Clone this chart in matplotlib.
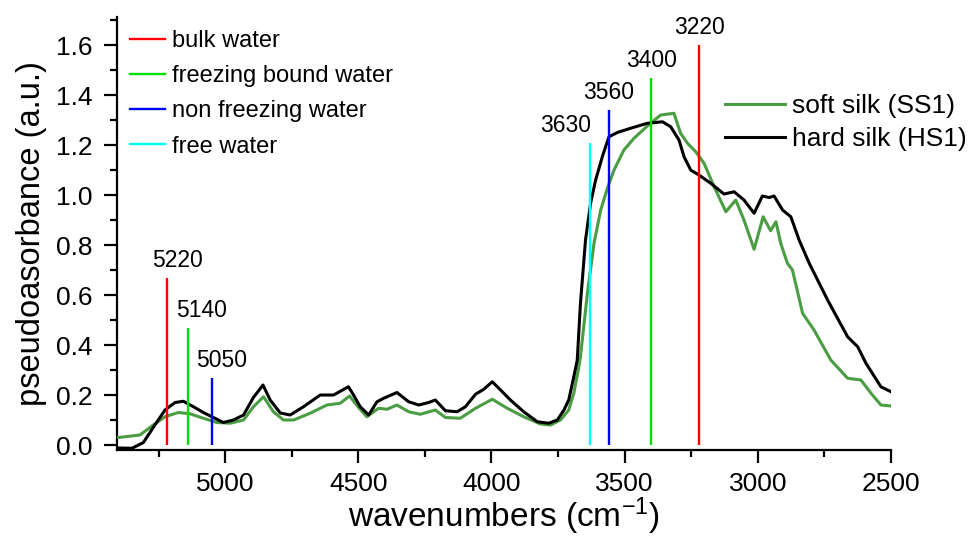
import matplotlib
matplotlib.use("Agg")
import matplotlib.pyplot as plt
from matplotlib.lines import Line2D
from matplotlib.ticker import MultipleLocator

plt.rcParams['font.family'] = ['Liberation Sans', 'DejaVu Sans']
plt.rcParams['mathtext.fontset'] = 'custom'
plt.rcParams['mathtext.rm'] = 'Liberation Sans'
plt.rcParams['mathtext.it'] = 'Liberation Sans:italic'

# ---- data ----
hard_wn = [5400, 5350, 5307, 5270, 5226, 5188, 5157, 5119, 5082, 5044, 5007, 4969,
           4931, 4894, 4858, 4831, 4793, 4756, 4706, 4643, 4593, 4537, 4518, 4493,
           4461, 4430, 4405, 4355, 4311, 4273, 4236, 4211, 4173, 4129, 4098, 4060,
           4029, 3997, 3966, 3929, 3879, 3828, 3785, 3753, 3728, 3710, 3691, 3678,
           3666, 3647, 3628, 3609, 3584, 3559, 3528, 3478, 3415, 3358, 3327, 3296,
           3277, 3252, 3221, 3177, 3127, 3089, 3052, 3014, 2983, 2958, 2939, 2907,
           2876, 2845, 2807, 2738, 2663, 2625, 2594, 2538, 2500]
hard_abs = [-0.012, -0.013, 0.01, 0.07, 0.14, 0.17, 0.175, 0.153, 0.13, 0.11, 0.09, 0.10,
            0.12, 0.19, 0.24, 0.18, 0.128, 0.12, 0.153, 0.20, 0.20, 0.233, 0.20, 0.153,
            0.12, 0.173, 0.187, 0.21, 0.173, 0.16, 0.17, 0.18, 0.137, 0.133, 0.153, 0.203,
            0.223, 0.253, 0.22, 0.18, 0.133, 0.093, 0.087, 0.10, 0.14, 0.18, 0.273, 0.34,
            0.567, 0.82, 0.967, 1.06, 1.153, 1.233, 1.25, 1.267, 1.287, 1.293, 1.273, 1.22,
            1.153, 1.10, 1.08, 1.047, 1.004, 1.013, 0.98, 0.927, 0.996, 0.99, 0.996, 0.94,
            0.913, 0.82, 0.727, 0.58, 0.433, 0.393, 0.327, 0.233, 0.213]

soft_wn = [5400, 5320, 5270, 5226, 5176, 5132, 5082, 5031, 4981, 4931, 4894, 4856,
           4819, 4781, 4743, 4681, 4618, 4568, 4533, 4499, 4468, 4424, 4392, 4355,
           4311, 4267, 4211, 4173, 4117, 4060, 3997, 3941, 3879, 3816, 3778, 3741,
           3710, 3691, 3672, 3666, 3640, 3615, 3590, 3565, 3540, 3503, 3465, 3415,
           3365, 3315, 3290, 3264, 3233, 3202, 3164, 3120, 3083, 3052, 3014, 2980,
           2952, 2932, 2914, 2889, 2870, 2832, 2789, 2726, 2663, 2613, 2575, 2538, 2500]
soft_abs = [0.03, 0.04, 0.08, 0.113, 0.13, 0.125, 0.107, 0.09, 0.087, 0.10, 0.153, 0.193,
            0.133, 0.10, 0.10, 0.127, 0.16, 0.167, 0.196, 0.15, 0.113, 0.147, 0.143, 0.16,
            0.133, 0.123, 0.14, 0.11, 0.107, 0.147, 0.183, 0.147, 0.113, 0.084, 0.08, 0.10,
            0.14, 0.207, 0.313, 0.353, 0.607, 0.807, 0.94, 1.027, 1.10, 1.18, 1.227, 1.276,
            1.32, 1.327, 1.247, 1.207, 1.173, 1.127, 1.033, 0.933, 0.98, 0.90, 0.783, 0.913,
            0.857, 0.893, 0.807, 0.727, 0.70, 0.527, 0.46, 0.34, 0.267, 0.26, 0.207, 0.16, 0.156]

marker_wn = [5220, 5140, 5050, 3630, 3560, 3400, 3220]
marker_height = [0.67, 0.47, 0.27, 1.21, 1.34, 1.47, 1.60]
marker_type = ['bulk water', 'freezing bound water', 'non freezing water',
               'free water', 'non freezing water', 'freezing bound water', 'bulk water']
water_types = ['bulk water', 'freezing bound water', 'non freezing water', 'free water']
water_colors = {'bulk water': '#ff0000', 'freezing bound water': '#00e000',
                'non freezing water': '#0000ff', 'free water': '#00ffff'}
label_offset_px = [11, 14, 10, -24, 0, 0, 0]

# ---- figure ----
W, H = 971, 537
fig = plt.figure(figsize=(W / 100, H / 100), dpi=100)
ax = fig.add_axes([117.3 / W, 1 - 450 / H, (891 - 117.3) / W, (450 - 17.3) / H])

green = '#4a9d42'
l_soft, = ax.plot(soft_wn, soft_abs, color=green, lw=2.2, label='soft silk (SS1)', zorder=3)
l_hard, = ax.plot(hard_wn, hard_abs, color='black', lw=2.2, label='hard silk (HS1)', zorder=4)

for w, h, t, off in zip(marker_wn, marker_height, marker_type, label_offset_px):
    ax.vlines(w, 0, h, colors=water_colors[t], lw=1.7, zorder=5)
    ax.annotate(str(w), xy=(w, h), xytext=(off * 0.72, 4), textcoords='offset points',
                ha='center', va='bottom', fontsize=16.5)

ax.set_xlim(5405, 2500)
ax.set_ylim(-0.02, 1.711)
ax.xaxis.set_major_locator(MultipleLocator(500))
ax.xaxis.set_minor_locator(MultipleLocator(250))
ax.yaxis.set_major_locator(MultipleLocator(0.2))
ax.yaxis.set_minor_locator(MultipleLocator(0.1))
ax.yaxis.set_major_formatter(matplotlib.ticker.FormatStrFormatter('%.1f'))

for s in ['top', 'right']:
    ax.spines[s].set_visible(False)
for s in ['left', 'bottom']:
    ax.spines[s].set_linewidth(1.6)
ax.tick_params(which='major', direction='out', length=9.5, width=1.6, labelsize=19)
ax.tick_params(axis='y', which='major', pad=8)
ax.tick_params(axis='x', which='major', pad=6)
ax.tick_params(which='minor', direction='out', length=5, width=1.6)

ax.set_xlabel('wavenumbers (cm$^{-1}$)', fontsize=24, labelpad=0)
ax.set_ylabel('pseudoasorbance (a.u.)', fontsize=23.5, labelpad=7)

handles1 = [Line2D([], [], color=water_colors[t], lw=1.7) for t in water_types]
leg1 = ax.legend(handles1, water_types, loc='upper left',
                 bbox_to_anchor=(0.016, 0.971), frameon=False, fontsize=17,
                 handlelength=1.5, handletextpad=0.3, labelspacing=0.56,
                 borderpad=0, borderaxespad=0)
ax.add_artist(leg1)
ax.legend([l_soft, l_hard], ['soft silk (SS1)', 'hard silk (HS1)'], loc='upper left',
          bbox_to_anchor=(0.785, 0.822), frameon=False, fontsize=19,
          handlelength=2.3, handletextpad=0.26, labelspacing=0.33,
          borderpad=0, borderaxespad=0)

fig.savefig('out.png', dpi=100)
